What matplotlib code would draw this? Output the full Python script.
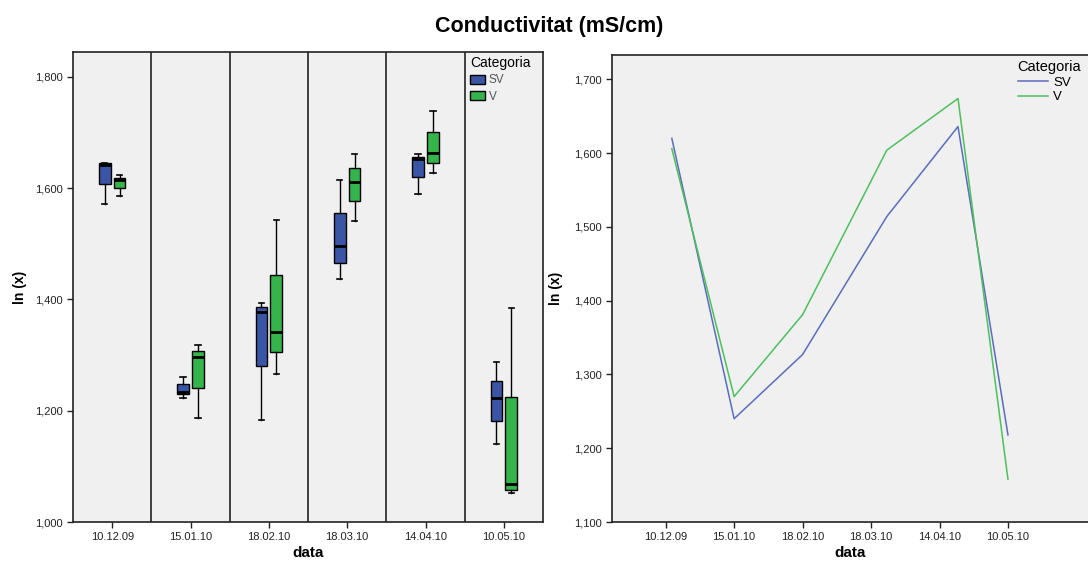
import numpy as np
import matplotlib
matplotlib.use('Agg')
import matplotlib.pyplot as plt
from matplotlib.patches import Patch
from matplotlib.ticker import FuncFormatter

plt.rcParams['font.family'] = ['Liberation Sans', 'DejaVu Sans']

dates = ['10.12.09', '15.01.10', '18.02.10', '18.03.10', '14.04.10', '10.05.10']
categories = ['SV', 'V']

# box plot (left): whiskers / quartiles / median per date
sv_low = [1.571, 1.222, 1.184, 1.436, 1.590, 1.140]
sv_q1 = [1.607, 1.230, 1.281, 1.465, 1.620, 1.181]
sv_med = [1.641, 1.234, 1.377, 1.496, 1.652, 1.222]
sv_q3 = [1.645, 1.248, 1.387, 1.556, 1.656, 1.253]
sv_high = [1.646, 1.261, 1.394, 1.615, 1.661, 1.287]

v_low = [1.585, 1.187, 1.266, 1.541, 1.628, 1.052]
v_q1 = [1.600, 1.240, 1.305, 1.576, 1.645, 1.058]
v_med = [1.615, 1.296, 1.341, 1.611, 1.663, 1.068]
v_q3 = [1.619, 1.307, 1.443, 1.636, 1.700, 1.225]
v_high = [1.623, 1.318, 1.543, 1.661, 1.739, 1.384]

# line chart (right)
line_x = [0.09, 1.0, 2.0, 3.23, 4.27, 5.0]
sv_mean = [1.620, 1.240, 1.327, 1.514, 1.636, 1.218]
v_mean = [1.606, 1.270, 1.381, 1.604, 1.674, 1.158]

box_colors = ['#3a55a6', '#34b44a']
line_colors = ['#5a6cc0', '#4cc05a']
bg = '#f0f0f0'


def comma_fmt(v, pos):
    return ('%.3f' % v).replace('.', ',')


def make_stats(low, q1, med, q3, high):
    res = list()
    for i in range(len(low)):
        res.append({'whislo': low[i], 'q1': q1[i], 'med': med[i],
                    'q3': q3[i], 'whishi': high[i]})
    return res


def style_axis(ax):
    ax.set_facecolor(bg)
    for sp in ax.spines.values():
        sp.set_linewidth(1.2)
        sp.set_color('#222222')
    ax.tick_params(direction='out', length=4, width=1, labelsize=8,
                   colors='#222222')
    ax.yaxis.set_major_formatter(FuncFormatter(comma_fmt))
    ax.set_xlabel('data', fontsize=11, fontweight='bold')
    ax.set_ylabel('ln (x)', fontsize=10, fontweight='bold')


fig = plt.figure(figsize=(10.88, 5.63), dpi=100)
fig.text(0.505, 0.953, 'Conductivitat (mS/cm)', ha='center', va='center',
         fontsize=15.5, fontweight='bold')

W, H = 1088.0, 563.0

################################################################################
# left: box plot
ax1 = fig.add_axes([73 / W, 1 - 522 / H, 470 / W, 470 / H])
style_axis(ax1)
xx = np.arange(len(dates))
offs = 0.095
all_stats = [make_stats(sv_low, sv_q1, sv_med, sv_q3, sv_high),
             make_stats(v_low, v_q1, v_med, v_q3, v_high)]
for k, stats in enumerate(all_stats):
    pos = xx + (-offs if k == 0 else offs)
    ax1.bxp(stats, positions=pos, widths=0.15, patch_artist=True,
            showfliers=False, manage_ticks=False, capwidths=0.07,
            boxprops=dict(facecolor=box_colors[k], edgecolor='black', linewidth=1),
            medianprops=dict(color='black', linewidth=2),
            whiskerprops=dict(color='black', linewidth=1),
            capprops=dict(color='black', linewidth=1.2))

for i in range(len(dates) - 1):
    ax1.axvline(i + 0.5, color='#222222', linewidth=1.2)

ax1.set_xlim(-0.5, len(dates) - 0.5)
ax1.set_ylim(1.0, 1.8446)
ax1.set_yticks(np.arange(1.0, 1.81, 0.2))
ax1.set_xticks(xx)
ax1.set_xticklabels(dates)
ax1.xaxis.set_label_coords(0.5, -(546 - 522) / 470.0)
ax1.yaxis.set_label_coords(-(73 - 27) / 470.0, 0.5)

handles = [Patch(facecolor=box_colors[i], edgecolor='black', linewidth=1,
                 label=categories[i]) for i in range(2)]
leg1 = ax1.legend(handles=handles, title='Categoria', loc='upper left',
                  bbox_to_anchor=(468 / W, 1 - 54 / H), bbox_transform=fig.transFigure,
                  frameon=False, fontsize=8.5, title_fontsize=10,
                  handlelength=1.2, handleheight=0.9, handletextpad=0.35,
                  labelspacing=0.35, borderaxespad=0, borderpad=0.2)
leg1._legend_box.align = 'left'
for t in leg1.get_texts():
    t.set_color('#555555')

################################################################################
# right: line chart
ax2 = fig.add_axes([612 / W, 1 - 522 / H, 500 / W, 467 / H])
style_axis(ax2)
ax2.plot(line_x, sv_mean, color=line_colors[0], linewidth=1.1, label=categories[0])
ax2.plot(line_x, v_mean, color=line_colors[1], linewidth=1.1, label=categories[1])
ax2.set_xlim(-0.784, -0.784 + 500 / 68.46)
ax2.set_ylim(1.1, 1.733)
ax2.set_yticks(np.arange(1.1, 1.71, 0.1))
ax2.set_xticks(xx)
ax2.set_xticklabels(dates)
ax2.xaxis.set_label_coords((850 - 612) / 500.0, -(546 - 522) / 467.0)
ax2.yaxis.set_label_coords(-(612 - 563) / 500.0, 0.5)

leg2 = ax2.legend(title='Categoria', loc='upper left',
                  bbox_to_anchor=(1015 / W, 1 - 57 / H), bbox_transform=fig.transFigure,
                  frameon=False, fontsize=9.5, title_fontsize=10.5,
                  handlelength=2.3, handletextpad=0.4, labelspacing=0.2,
                  borderaxespad=0, borderpad=0.2)
leg2._legend_box.align = 'left'

fig.savefig('out.png', dpi=100, facecolor='white')
